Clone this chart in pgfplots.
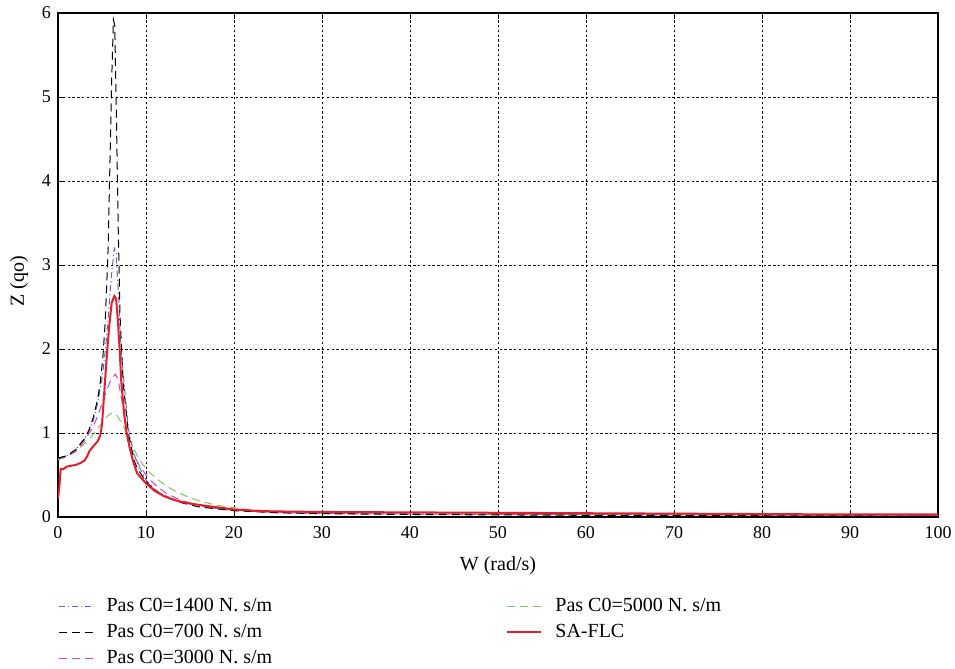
\documentclass[border=0pt]{standalone}
\usepackage{fontspec}
\setmainfont{Liberation Serif}
\usepackage{pgfplots}
\pgfplotsset{compat=1.18}
\definecolor{cblue}{RGB}{95,105,185}
\definecolor{cmag}{RGB}{215,70,185}
\definecolor{cgreen}{RGB}{125,200,95}
\definecolor{cred}{RGB}{230,30,40}
\begin{document}
\begin{tikzpicture}
\path[use as bounding box] (-29pt,-76pt) rectangle (448.5pt,258.5pt);
\begin{axis}[
  scale only axis, width=440pt, height=252pt,
  xmin=0, xmax=100, ymin=0, ymax=6,
  xtick={0,10,...,100}, ytick={0,1,...,6},
  /pgf/number format/assume math mode=true,
  tick label style={font=\small},
  xticklabel style={yshift=-1pt},
  label style={font=\normalsize},
  xlabel={W (rad/s)}, ylabel={Z (qo)},
  xlabel style={yshift=-2.5pt}, ylabel style={yshift=0pt, xshift=-8pt},
  grid=major,
  grid style={black, line width=0.4pt, dash pattern=on 1.2pt off 1.2pt},
  axis line style={black, line width=0.6pt},
  tick align=inside, major tick length=3pt, tick style={black, line width=0.4pt},
  legend columns=2,
  legend cell align=left,
  legend style={at={(0,-0.152)}, anchor=north west, draw=none, fill=none,
    inner sep=0pt, font=\normalsize, row sep=1pt,
    /tikz/every odd column/.append style={column sep=4.5pt},
    /tikz/every even column/.append style={column sep=115pt}},
]
\addplot[cgreen, line width=0.5pt, dash pattern=on 4pt off 2.5pt, forget plot] coordinates {
(0,0.68)(1,0.72)(2,0.78)(3,0.87)(4,0.98)(5,1.12)(5.6,1.2)(6.1,1.24)(6.6,1.22)(7.2,1.13)(7.8,1.0)(8.4,0.86)(9,0.73)(9.6,0.63)(10.4,0.53)(11.3,0.45)(12.3,0.37)(13.3,0.31)(14.3,0.26)(15.2,0.22)(16.1,0.19)(18,0.14)(20,0.11)(22,0.085)(25,0.065)(30,0.05)(40,0.04)(50,0.035)(60,0.03)(80,0.025)(100,0.02)};
\addplot[cmag, line width=0.5pt, dash pattern=on 4pt off 2.5pt, forget plot] coordinates {
(0,0.69)(1,0.72)(2,0.78)(3,0.9)(4,1.08)(4.5,1.2)(5,1.35)(5.5,1.5)(6,1.63)(6.5,1.7)(6.8,1.65)(7.2,1.42)(7.5,1.22)(7.8,1.02)(8.2,0.85)(8.6,0.74)(9.2,0.62)(10,0.5)(10.45,0.44)(11.3,0.36)(12.35,0.28)(13.3,0.23)(14.25,0.19)(16.1,0.14)(18,0.1)(20,0.08)(25,0.05)(30,0.04)(50,0.03)(100,0.02)};
\addplot[cblue, line width=0.5pt, dash pattern=on 3pt off 1.5pt on 0.6pt off 1.5pt, forget plot] coordinates {
(0,0.7)(1,0.73)(2,0.8)(3,0.93)(3.5,1.02)(4,1.15)(4.5,1.35)(5,1.65)(5.4,2.0)(5.8,2.5)(6.1,2.9)(6.4,3.2)(6.6,3.15)(6.9,2.6)(7.1,2.1)(7.5,1.6)(8,1.05)(8.5,0.8)(9,0.64)(10,0.44)(11,0.33)(12,0.26)(14,0.18)(16,0.13)(20,0.08)(25,0.055)(30,0.045)(40,0.04)(50,0.035)(60,0.03)(100,0.02)};
\addplot[black, line width=0.5pt, dash pattern=on 4pt off 2.5pt, forget plot] coordinates {
(0,0.7)(1,0.73)(2,0.8)(3,0.93)(3.5,1.03)(4,1.18)(4.5,1.4)(4.8,1.6)(5.1,1.9)(5.35,2.3)(5.55,2.8)(5.7,3.2)(5.9,4.2)(6.1,5.2)(6.3,5.92)(6.45,5.85)(6.55,5.3)(6.67,4.55)(6.85,3.4)(7.05,2.4)(7.4,1.6)(8.0,1.0)(8.56,0.7)(9,0.58)(10,0.42)(11,0.32)(12,0.25)(14,0.17)(16,0.12)(20,0.075)(25,0.05)(30,0.04)(40,0.03)(60,0.02)(100,0.01)};
\addplot[cred, line width=1pt, forget plot] coordinates {
(0,0.22)(0.15,0.35)(0.3,0.57)(0.6,0.57)(1,0.6)(1.5,0.61)(2,0.62)(2.5,0.64)(3,0.67)(3.3,0.72)(3.6,0.79)(4,0.84)(4.5,0.9)(4.8,0.97)(5,1.1)(5.2,1.4)(5.5,1.85)(5.8,2.25)(6.1,2.55)(6.4,2.63)(6.6,2.6)(6.8,2.35)(7.0,2.0)(7.2,1.6)(7.5,1.25)(7.8,1.0)(8.2,0.8)(8.6,0.64)(9,0.52)(10,0.4)(11,0.31)(12,0.25)(13,0.21)(14,0.18)(15,0.16)(17,0.13)(20,0.09)(23,0.07)(26,0.065)(30,0.06)(40,0.055)(50,0.05)(60,0.045)(70,0.04)(80,0.035)(90,0.03)(100,0.03)};
\addlegendimage{cblue, line width=0.5pt, dash pattern=on 3pt off 1.5pt on 0.6pt off 1.5pt}
\addlegendentry{Pas C0=1400 N. s/m}
\addlegendimage{cgreen, line width=0.5pt, dash pattern=on 4pt off 2.5pt}
\addlegendentry{Pas C0=5000 N. s/m}
\addlegendimage{black, line width=0.5pt, dash pattern=on 4pt off 2.5pt}
\addlegendentry{Pas C0=700 N. s/m}
\addlegendimage{cred, line width=1pt}
\addlegendentry{SA-FLC}
\addlegendimage{cmag, line width=0.5pt, dash pattern=on 4pt off 2.5pt}
\addlegendentry{Pas C0=3000 N. s/m}
\end{axis}
\end{tikzpicture}
\end{document}
